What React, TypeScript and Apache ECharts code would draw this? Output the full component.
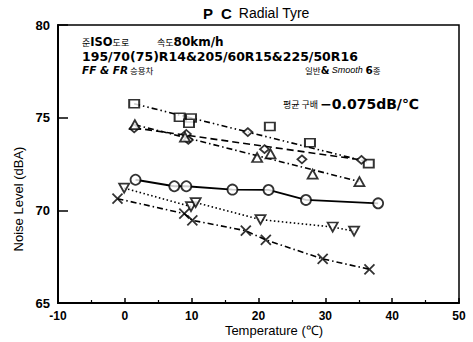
import React, { useEffect, useRef } from "react";
import * as echarts from "echarts";

// Tick values
const xTicks = { min: -10, max: 50, interval: 10 };
const yTicks = { min: 65, max: 80, interval: 5 };

// Series points [temperature, noise]
const squarePts = [[1.4, 75.75], [8.2, 75.02], [9.9, 74.98], [9.6, 74.7], [21.7, 74.52], [27.7, 73.65], [36.5, 72.52]];
const squareLine = [[1.4, 75.75], [36.5, 72.6]];

const diamondPts = [[1.4, 74.42], [9.2, 74.12], [9.5, 73.8], [18.4, 74.22], [20.9, 73.3], [26.5, 72.75], [35.4, 72.72]];
const diamondLine = [[1.4, 74.45], [35.4, 72.72]];

const trianglePts = [[1.5, 74.62], [9.0, 73.95], [19.8, 72.85], [21.8, 73.05], [28.1, 71.95], [35.1, 71.55]];
const triangleLine = [[1.5, 74.62], [35.1, 71.55]];

const circlePts = [[1.6, 71.65], [7.4, 71.3], [9.2, 71.3], [16.1, 71.12], [21.5, 71.1], [27.1, 70.56], [37.9, 70.38]];

const triDownPts = [[-0.1, 71.2], [9.9, 70.2], [10.6, 70.42], [20.3, 69.5], [31.1, 69.1], [34.3, 68.88]];

const crossPts = [[-1.1, 70.63], [8.9, 69.82], [10.1, 69.46], [18.1, 68.9], [21.1, 68.4], [29.6, 67.38], [36.6, 66.82]];

const crossPath = "path://M0,0L10,10M10,0L0,10";

export default function App() {
  const ref = useRef<HTMLDivElement>(null);
  useEffect(() => {
    if (!ref.current) return;
    const chart = echarts.init(ref.current, null, { renderer: "svg" });
    const lineBase = (data: number[][], type: any, width = 1.6) => ({
      type: "line",
      data,
      showSymbol: false,
      symbol: "none",
      lineStyle: { color: "#000", width, type },
      z: 2,
    });
    const scat = (data: number[][], symbol: string, size: any, rotate = 0) => ({
      type: "scatter",
      data,
      symbol,
      symbolSize: size,
      symbolRotate: rotate,
      itemStyle: { color: "#fff", borderColor: "#000", borderWidth: 1.8 },
      z: 3,
    });
    const kFont = "Noto Sans CJK KR";
    const bFont = "DejaVu Sans";
    chart.setOption({
      animation: false,
      backgroundColor: "#fff",
      grid: { left: 58, right: 14, top: 25, bottom: 39, show: true, borderColor: "#000", borderWidth: 1.5, containLabel: false },
      xAxis: {
        type: "value",
        min: xTicks.min,
        max: xTicks.max,
        interval: xTicks.interval,
        axisLine: { onZero: false, lineStyle: { color: "#000", width: 2 } },
        axisTick: { inside: true, length: 5, lineStyle: { color: "#000", width: 1.5 } },
        minorTick: { show: true, splitNumber: 2, length: 3, lineStyle: { color: "#000", width: 1.2 } },
        splitLine: { show: false },
        axisLabel: { color: "#000", fontFamily: "Liberation Sans", fontWeight: "bold", fontSize: 12, margin: 7 },
      },
      yAxis: {
        type: "value",
        min: yTicks.min,
        max: yTicks.max,
        interval: yTicks.interval,
        axisLine: { onZero: false, lineStyle: { color: "#000", width: 2 } },
        axisTick: { inside: true, length: 10, lineStyle: { color: "#000", width: 1.5 } },
        splitLine: { show: false },
        axisLabel: { color: "#000", fontFamily: "Liberation Sans", fontWeight: "bold", fontSize: 13, margin: 8 },
      },
      series: [
        lineBase(squareLine, [6, 3, 1.5, 3, 1.5, 3]),
        lineBase(diamondLine, [7, 4]),
        lineBase(triangleLine, [6, 3, 1.5, 3]),
        lineBase(circlePts, "solid", 1.8),
        lineBase(triDownPts, [1.5, 2.5]),
        lineBase(crossPts, [6, 3, 1.5, 3]),
        scat(squarePts, "rect", [10, 8]),
        scat(diamondPts, "diamond", [9, 8]),
        scat(trianglePts, "triangle", [10, 9]),
        scat(circlePts, "circle", 10),
        scat(triDownPts, "triangle", [10, 9], 180),
        scat(crossPts, crossPath, 10),
      ],
      graphic: [
        {
          type: "text",
          x: 203,
          y: 13,
          style: {
            text: "{p|P  C}  {r|Radial Tyre}",
            textVerticalAlign: "middle",
            rich: {
              p: { fontFamily: "Liberation Sans", fontWeight: "bold", fontSize: 15, fill: "#000" },
              r: { fontFamily: "Liberation Sans", fontSize: 14, fill: "#000" },
            },
          },
        },
        {
          type: "text",
          x: 18,
          y: 199,
          rotation: Math.PI / 2,
          style: {
            text: "Noise Level (dBA)",
            fontFamily: "Liberation Sans",
            fontSize: 13,
            fill: "#000",
            textAlign: "center",
            textVerticalAlign: "middle",
          },
        },
        {
          type: "text",
          x: 274,
          y: 330,
          style: {
            text: "Temperature (℃)",
            fontFamily: "Liberation Sans",
            fontSize: 13,
            fill: "#000",
            textAlign: "center",
            textVerticalAlign: "middle",
          },
        },
        {
          type: "text",
          x: 82,
          y: 42,
          style: {
            text: "{k|준}{b|ISO}{k|도로}",
            textVerticalAlign: "middle",
            rich: {
              k: { fontFamily: kFont, fontSize: 9, fill: "#000" },
              b: { fontFamily: bFont, fontWeight: "bold", fontSize: 11.5, fill: "#000" },
            },
          },
        },
        {
          type: "text",
          x: 157,
          y: 42,
          style: {
            text: "{k|속도}{b|80km/h}",
            textVerticalAlign: "middle",
            rich: {
              k: { fontFamily: kFont, fontSize: 9, fill: "#000" },
              b: { fontFamily: bFont, fontWeight: "bold", fontSize: 12, fill: "#000" },
            },
          },
        },
        {
          type: "text",
          x: 82,
          y: 56,
          style: {
            text: "195/70(75)R14&205/60R15&225/50R16",
            fontFamily: bFont,
            fontWeight: "bold",
            fontSize: 12.5,
            fill: "#000",
            textVerticalAlign: "middle",
          },
        },
        {
          type: "text",
          x: 82,
          y: 70,
          style: {
            text: "{b|FF & FR}{k| 승용차}",
            textVerticalAlign: "middle",
            rich: {
              b: { fontFamily: bFont, fontWeight: "bold", fontStyle: "italic", fontSize: 10.5, fill: "#000" },
              k: { fontFamily: kFont, fontSize: 8.5, fill: "#000" },
            },
          },
        },
        {
          type: "text",
          x: 305,
          y: 70,
          style: {
            text: "{k|일반}{a|&}{s| Smooth }{b|6}{k|종}",
            textVerticalAlign: "middle",
            rich: {
              k: { fontFamily: kFont, fontSize: 8.5, fill: "#000" },
              a: { fontFamily: bFont, fontWeight: "bold", fontSize: 10, fill: "#000" },
              s: { fontFamily: "Liberation Sans", fontStyle: "italic", fontSize: 9, fill: "#000" },
              b: { fontFamily: bFont, fontWeight: "bold", fontSize: 10.5, fill: "#000" },
            },
          },
        },
        {
          type: "text",
          x: 283,
          y: 104,
          style: {
            text: "{k|평균 구배 }{b|−0.075dB/℃}",
            textVerticalAlign: "middle",
            rich: {
              k: { fontFamily: kFont, fontSize: 9, fill: "#000" },
              b: { fontFamily: bFont, fontWeight: "bold", fontSize: 14, fill: "#000" },
            },
          },
        },
      ],
    });
    return () => chart.dispose();
  }, []);
  return <div ref={ref} style={{ width: 473, height: 342, position: "absolute", left: 0, top: 0 }} />;
}
